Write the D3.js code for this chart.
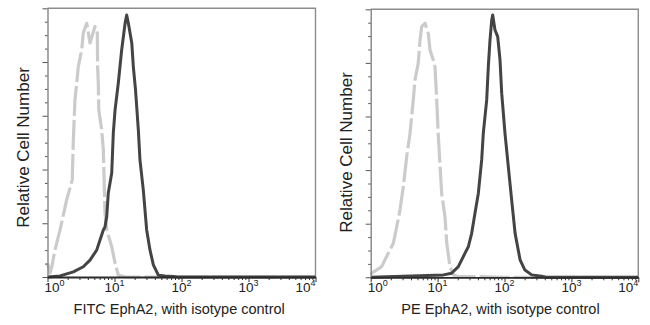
<!DOCTYPE html>
<html>
<head>
<meta charset="utf-8">
<script src="https://cdn.jsdelivr.net/npm/d3@7"></script>
<style>
html,body{margin:0;padding:0;background:#fff;}
svg{display:block;}
text{font-family:"Liberation Sans",Arial,Helvetica,sans-serif;fill:#222;}
</style>
</head>
<body>
<svg id="chart" width="650" height="325"></svg>
<script>
// ---------- data ----------
const decadeTicks = [1, 10, 100, 1000, 10000];
const yTicks = d3.range(0, 101, 5);           // relative cell number, 0..100
const yLabel = "Relative Cell Number";
const xLabels = ["FITC EphA2, with isotype control", "PE EphA2, with isotype control"];

// Panel 1: FITC
const fitcIsoX = [1.0, 1.09, 1.16, 1.29, 1.54, 1.93, 2.34, 2.43, 2.57, 2.73, 2.88, 3.24, 3.42, 3.85, 4.31, 5.11, 5.54, 5.6, 5.73, 5.83, 6.44, 6.81, 6.97, 7.21, 7.65, 9.09, 10.2, 11.4, 14.3, 10000];
const fitcIsoY = [5.2, 1.5, 3.8, 10.0, 17.5, 28.7, 36.1, 51.0, 65.9, 72.2, 78.3, 84.5, 90.8, 94.4, 87.1, 93.2, 90.8, 78.3, 72.2, 62.2, 54.7, 47.3, 38.0, 23.8, 17.5, 11.3, 5.2, 0.7, 0, 0];
const fitcStainX = [1.0, 1.54, 2.43, 3.42, 4.31, 5.42, 6.08, 6.81, 7.21, 7.65, 8.08, 9.09, 9.6, 10.2, 11.4, 12.8, 14.4, 15.2, 16.1, 18.1, 19.1, 20.6, 22.7, 24.0, 26.9, 30.2, 33.9, 38.0, 45.1, 56.7, 74.7, 90, 10000];
const fitcStainY = [0, 0.4, 1.9, 3.8, 6.3, 10.0, 13.8, 17.5, 18.6, 22.4, 31.3, 38.7, 53.6, 62.2, 72.2, 84.5, 94.5, 97.5, 94.4, 87.1, 78.3, 69.6, 54.7, 43.5, 32.4, 17.5, 10.0, 4.5, 0.7, 0.4, 0.2, 0, 0];

// Panel 2: PE
const peIsoX = [1.0, 1.035, 1.46, 1.83, 2.18, 2.45, 2.74, 3.07, 3.45, 3.87, 4.33, 4.59, 5.14, 5.46, 5.78, 6.48, 7.26, 7.70, 8.62, 9.14, 9.70, 10.2, 10.9, 11.5, 12.9, 13.7, 15.3, 17.2, 20, 40, 100, 10000];
const peIsoY = [1.0, 1.5, 4.0, 9.0, 12.7, 18.9, 25.1, 33.8, 45.0, 53.7, 66.2, 73.6, 79.9, 88.5, 93.5, 94.8, 91.0, 84.8, 81.1, 78.6, 66.2, 53.7, 41.3, 31.3, 22.6, 12.7, 4.0, 0.9, 0.3, 0.3, 0, 0];
const peStainX = [1.0, 12.2, 16.2, 20.4, 25.7, 28.8, 32.3, 36.2, 40.6, 45.6, 48.2, 54.2, 57.3, 60.7, 64.4, 66.6, 72.1, 79.1, 85.7, 90.8, 101.7, 114, 128, 144, 171, 202, 255, 360, 420, 10000];
const peStainY = [0, 0.9, 1.5, 4.0, 9.0, 11.4, 16.4, 23.9, 31.3, 43.8, 53.7, 66.2, 78.6, 88.5, 96.0, 97.9, 92.3, 89.8, 81.1, 68.7, 53.7, 41.3, 28.8, 16.4, 6.5, 2.7, 0.9, 0.4, 0, 0];

// ---------- drawing ----------
const svg = d3.select("#chart");
const panels = [
  {x0: 47.5, x1: 315.5, yTop: 8.3, yBot: 277, iso: [fitcIsoX, fitcIsoY], stain: [fitcStainX, fitcStainY], xlab: xLabels[0], ylabX: 28.5, ylabY: 147.5, xlabX: 179.2},
  {x0: 370.7, x1: 638.3, yTop: 9.3, yBot: 277.3, iso: [peIsoX, peIsoY], stain: [peStainX, peStainY], xlab: xLabels[1], ylabX: 352, ylabY: 152.5, xlabX: 500.5}
];

panels.forEach((p, pi) => {
  const x = d3.scaleLog().domain([1, 10000]).range([p.x0, p.x1]);
  const y = d3.scaleLinear().domain([0, 100]).range([p.yBot, p.yTop]);
  const g = svg.append("g");

  // frame: top and right borders
  g.append("path")
    .attr("d", `M${p.x0},${p.yTop}H${p.x1}V${p.yBot}`)
    .attr("fill", "none").attr("stroke", "#8c8c8c").attr("stroke-width", 1.4);

  // curves
  const line = d3.line().x(d => x(d[0])).y(d => y(d[1]));
  const isoData = p.iso[0].map((v, i) => [v, p.iso[1][i]]);
  const stainData = p.stain[0].map((v, i) => [v, p.stain[1][i]]);
  g.append("path").datum(isoData).attr("d", line)
    .attr("fill", "none").attr("stroke", "#cbcbcb").attr("stroke-width", 3.2)
    .attr("stroke-dasharray", "30,4").attr("stroke-linejoin", "round");
  g.append("path").datum(stainData).attr("d", line)
    .attr("fill", "none").attr("stroke", "#444").attr("stroke-width", 3)
    .attr("stroke-linejoin", "round");

  // y axis (left)
  const yAxis = d3.axisLeft(y).tickValues(yTicks).tickFormat("")
    .tickSizeOuter(0);
  const ya = g.append("g").attr("transform", `translate(${p.x0},0)`).call(yAxis);
  ya.select(".domain").attr("stroke", "#7a7a7a").attr("stroke-width", 1.3);
  ya.selectAll(".tick line")
    .attr("x2", d => (d % 20 === 0 ? -5 : -2.5))
    .attr("stroke", "#555").attr("stroke-width", 1);

  // x axis (bottom), log ticks
  const minor = [];
  for (let e = 0; e < 4; e++) for (let m = 1; m < 10; m++) minor.push(m * Math.pow(10, e));
  minor.push(10000);
  const xAxis = d3.axisBottom(x).tickValues(minor).tickFormat("").tickSizeOuter(0);
  const xa = g.append("g").attr("transform", `translate(0,${p.yBot})`).call(xAxis);
  xa.select(".domain").attr("stroke", "#2a2a2a").attr("stroke-width", 1.8);
  xa.selectAll(".tick line")
    .attr("y2", d => (decadeTicks.includes(d) ? 5 : 3))
    .attr("stroke", "#333").attr("stroke-width", 1);

  // decade labels
  decadeTicks.forEach((d, i) => {
    const e = Math.round(Math.log10(d));
    let anchor = "middle", dx = 0;
    if (i === 0) { anchor = "start"; dx = -3; }
    if (i === decadeTicks.length - 1) { anchor = "end"; dx = 0; }
    const t = g.append("text")
      .attr("x", x(d) + dx).attr("y", 291.5)
      .attr("text-anchor", anchor)
      .style("font-size", "13.5px");
    t.append("tspan").text("10");
    t.append("tspan").attr("dy", -5.5).style("font-size", "9px").text(String(e));
  });

  // axis titles
  g.append("text")
    .attr("transform", `translate(${p.ylabX},${p.ylabY}) rotate(-90)`)
    .attr("text-anchor", "middle")
    .style("font-size", "17px")
    .text(yLabel);
  g.append("text")
    .attr("x", p.xlabX).attr("y", 313.5)
    .attr("text-anchor", "middle")
    .style("font-size", "14.5px")
    .text(p.xlab);
});
</script>
</body>
</html>
